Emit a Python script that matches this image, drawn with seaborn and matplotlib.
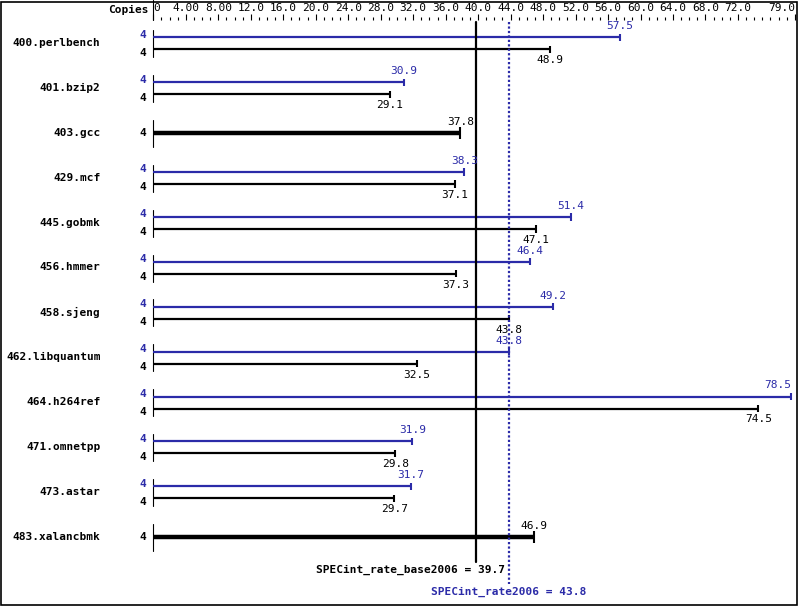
import matplotlib
matplotlib.use("Agg")
import matplotlib.pyplot as plt
import numpy as np
import pandas as pd
import seaborn as sns
from matplotlib.patches import Rectangle

# SPEC CPU2006 integer rate results
benchmarks = ["400.perlbench", "401.bzip2", "403.gcc", "429.mcf", "445.gobmk",
              "456.hmmer", "458.sjeng", "462.libquantum", "464.h264ref",
              "471.omnetpp", "473.astar", "483.xalancbmk"]
base = [48.9, 29.1, 37.8, 37.1, 47.1, 37.3, 43.8, 32.5, 74.5, 29.8, 29.7, 46.9]
peak = [57.5, 30.9, None, 38.3, 51.4, 46.4, 49.2, 43.8, 78.5, 31.9, 31.7, None]
copies = [4] * 12
base_mean = 39.7
peak_mean = 43.8
tick_vals = list(range(0, 76, 4)) + [79]

BLUE = "#2b2ba8"
W, H = 799, 606
x0, ppu = 153.3, 8.12   # pixel of 0 and pixels per unit
top = 20

sns.set_style("white")
plt.rcParams["font.family"] = ["DejaVu Sans Mono"]
plt.rcParams["text.color"] = "black"
plt.rcParams["xtick.color"] = "black"
plt.rcParams["xtick.labelcolor"] = "black"

fig = plt.figure(figsize=(W / 100, H / 100), dpi=100)
ax = fig.add_axes([0, 0, 1, (H - top) / H])
ax.set_xlim(-x0 / ppu, (W - x0) / ppu)
ax.set_ylim(H, top)
for s in ax.spines.values():
    s.set_visible(False)
ax.set_yticks([])

# top scale
ax.xaxis.tick_top()
ax.set_xticks(tick_vals)
ax.set_xticks(np.arange(0, 80, 1), minor=True)
labels = ["0" if v == 0 else ("%.2f" % v if v < 10 else "%.1f" % v) for v in tick_vals]
ax.set_xticklabels(labels, fontsize=8)
ax.tick_params(axis="x", which="major", length=4.3, width=0.8, pad=1, direction="out")
ax.tick_params(axis="x", which="minor", length=2.2, width=0.8, direction="out")
tl = ax.get_xticklabels()
tl[0].set_horizontalalignment("left")
tl[-1].set_horizontalalignment("right")
ax.text(-0.6, 10, "Copies", ha="right", va="center", fontsize=8,
        fontweight="bold", clip_on=False)
ax.plot([0, 0], [0, top], color="black", lw=0.8, clip_on=False)

x_max = (W - x0) / ppu


def value_label(v, y, color):
    # keep labels near the right edge inside the picture
    if v > x_max - 2:
        ax.text(v + 0.1, y, "%.1f" % v, ha="right", va="center", fontsize=8, color=color)
    else:
        ax.text(v, y, "%.1f" % v, ha="center", va="center", fontsize=8, color=color)


rows = []
for i, name in enumerate(benchmarks):
    c = 43 + 44.9 * i
    single = peak[i] is None
    ax.text(-6.5, c, name, ha="right", va="center", fontsize=8, fontweight="bold")
    ax.plot([0, 0], [c - 13, c + 14], color="black", lw=0.8)
    if single:
        rows.append(dict(bench=name, kind="base", value=base[i], y=c, lw=3.2, size=12))
        ax.text(-1.3, c + 0.5, str(copies[i]), ha="center", va="center",
                fontsize=8, fontweight="bold")
        value_label(base[i], c - 11, "black")
    else:
        yp, yb = c - 5.7, c + 6.3
        rows.append(dict(bench=name, kind="peak", value=peak[i], y=yp, lw=1.6, size=7))
        rows.append(dict(bench=name, kind="base", value=base[i], y=yb, lw=1.6, size=7))
        ax.text(-1.3, yp - 2.5, str(copies[i]), ha="center", va="center",
                fontsize=8, fontweight="bold", color=BLUE)
        ax.text(-1.3, yb + 3.5, str(copies[i]), ha="center", va="center",
                fontsize=8, fontweight="bold")
        value_label(peak[i], yp - 11, BLUE)
        value_label(base[i], yb + 11, "black")

df = pd.DataFrame(rows)
colors = {"peak": BLUE, "base": "black"}
for _, r in df.iterrows():
    ax.hlines(r.y, 0, r.value, color=colors[r.kind], lw=r.lw)
for sz in df["size"].unique():
    sub = df[df["size"] == sz]
    sns.scatterplot(data=sub, x="value", y="y", hue="kind", palette=colors,
                    marker="|", s=(sz * 0.75) ** 2, linewidth=1.5, legend=False, ax=ax)

# mean lines
ax.plot([base_mean, base_mean], [top + 2, 562], color="black", lw=1.6)
ax.plot([peak_mean, peak_mean], [top + 2, 584], color=BLUE, lw=1.6,
        linestyle=(0, (1, 1)))
ax.text(peak_mean - 0.5, 570, "SPECint_rate_base2006 = %.1f" % base_mean,
        ha="right", va="center", fontsize=8, fontweight="bold")
ax.text(peak_mean, 592, "SPECint_rate2006 = %.1f" % peak_mean,
        ha="center", va="center", fontsize=8, fontweight="bold", color=BLUE)

fig.add_artist(Rectangle((0.001, 0.0015), 0.997, 0.996, transform=fig.transFigure,
                         fill=False, edgecolor="black", lw=1.2))
fig.savefig("out.png", dpi=100)
